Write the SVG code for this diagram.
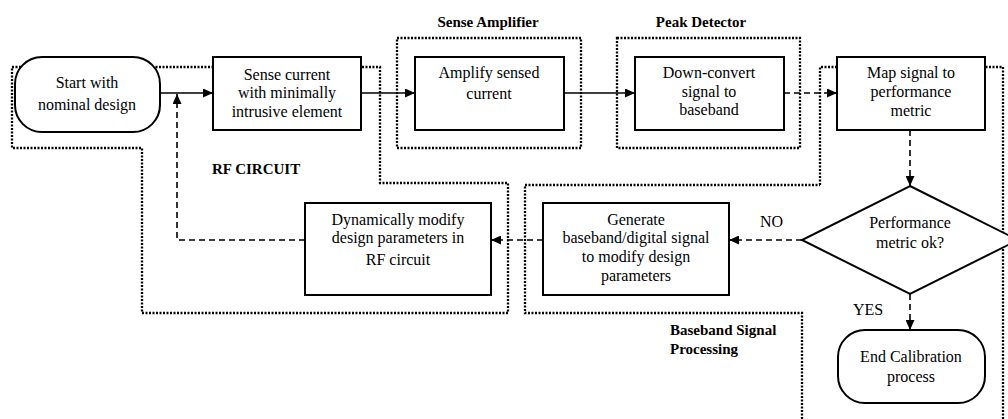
<svg xmlns="http://www.w3.org/2000/svg" width="1008" height="419" viewBox="0 0 1008 419" font-family="'Liberation Serif', 'DejaVu Serif', 'Times New Roman', serif">
<style>
.box{fill:#fff;stroke:#000;stroke-width:2}
.region{fill:none;stroke:#000;stroke-width:2.3;stroke-dasharray:2 1.5}
.solid{fill:none;stroke:#000;stroke-width:1.6}
.dash{fill:none;stroke:#000;stroke-width:1.6;stroke-dasharray:6 4}
text{font-family:'Liberation Serif','DejaVu Serif','Times New Roman',serif;font-size:16px;fill:#000}
.c{text-anchor:middle}
.b{font-weight:bold;font-size:15px}
</style>
<defs>
<marker id="arr" markerUnits="userSpaceOnUse" markerWidth="11" markerHeight="9" refX="10" refY="4.5" orient="auto">
<path d="M0,0 L10,4.5 L0,9 z" fill="#000"/>
</marker>
</defs>
<rect width="1008" height="419" fill="#fff"/>
<g id="regions">
<path class="region" d="M12,67 H380 V183 H508 V313 H142 V148 H12 Z"/>
<rect class="region" x="397" y="38" width="184" height="110"/>
<rect class="region" x="617" y="38" width="183" height="110"/>
<path class="region" d="M820,185 V67 H1003 V419"/>
<path class="region" d="M802,419 V313 H525 V185 H820"/>
<text class="b" x="212" y="174">RF CIRCUIT</text>
<text class="b c" x="488" y="27">Sense Amplifier</text>
<text class="b c" x="701" y="27">Peak Detector</text>
<text class="b" x="670" y="335">Baseband Signal</text>
<text class="b" x="670" y="354">Processing</text>
</g>
<g id="connectors">
<path class="solid" d="M160,93 H213" marker-end="url(#arr)"/>
<path class="solid" d="M361,93 H415" marker-end="url(#arr)"/>
<path class="solid" d="M564,93 H635" marker-end="url(#arr)"/>
<path class="dash" d="M784,93 H837" marker-end="url(#arr)"/>
<path class="dash" d="M910,130 V186" marker-end="url(#arr)"/>
<path class="dash" d="M802,240 H729" marker-end="url(#arr)"/>
<path class="dash" d="M543,240 H491" marker-end="url(#arr)"/>
<path class="dash" d="M305,240 H177 V94" marker-end="url(#arr)"/>
<path class="dash" d="M910,294 V330" marker-end="url(#arr)"/>
<text x="760" y="227">NO</text>
<text x="853" y="315">YES</text>
</g>
<g id="start">
<rect class="box" x="15" y="57" width="145" height="75" rx="27" ry="27"/>
<text class="c" x="87" y="88">Start with</text>
<text class="c" x="87" y="110">nominal design</text>
</g>
<g id="sense">
<rect class="box" x="213" y="57" width="148" height="73"/>
<text class="c" x="287" y="80">Sense current</text>
<text class="c" x="287" y="98">with minimally</text>
<text class="c" x="287" y="117">intrusive element</text>
</g>
<g id="amplify">
<rect class="box" x="415" y="57" width="149" height="73"/>
<text class="c" x="489" y="78">Amplify sensed</text>
<text class="c" x="489" y="99">current</text>
</g>
<g id="downconvert">
<rect class="box" x="635" y="57" width="149" height="73"/>
<text class="c" x="709" y="78">Down-convert</text>
<text class="c" x="709" y="97">signal to</text>
<text class="c" x="709" y="115">baseband</text>
</g>
<g id="map">
<rect class="box" x="837" y="57" width="148" height="73"/>
<text class="c" x="911" y="78">Map signal to</text>
<text class="c" x="911" y="97">performance</text>
<text class="c" x="911" y="116">metric</text>
</g>
<g id="decision">
<path class="box" d="M910,186 L1018,240 L910,294 L802,240 Z"/>
<text class="c" x="910" y="228">Performance</text>
<text class="c" x="910" y="248">metric ok?</text>
</g>
<g id="generate">
<rect class="box" x="543" y="203" width="186" height="92"/>
<text class="c" x="636" y="225">Generate</text>
<text class="c" x="636" y="243">baseband/digital signal</text>
<text class="c" x="636" y="262">to modify design</text>
<text class="c" x="636" y="281">parameters</text>
</g>
<g id="modify">
<rect class="box" x="305" y="203" width="186" height="92"/>
<text class="c" x="398" y="225">Dynamically modify</text>
<text class="c" x="398" y="243">design parameters in</text>
<text class="c" x="398" y="265">RF circuit</text>
</g>
<g id="end">
<rect class="box" x="838" y="330" width="147" height="73" rx="27" ry="27"/>
<text class="c" x="911" y="362">End Calibration</text>
<text class="c" x="911" y="382">process</text>
</g>
</svg>
